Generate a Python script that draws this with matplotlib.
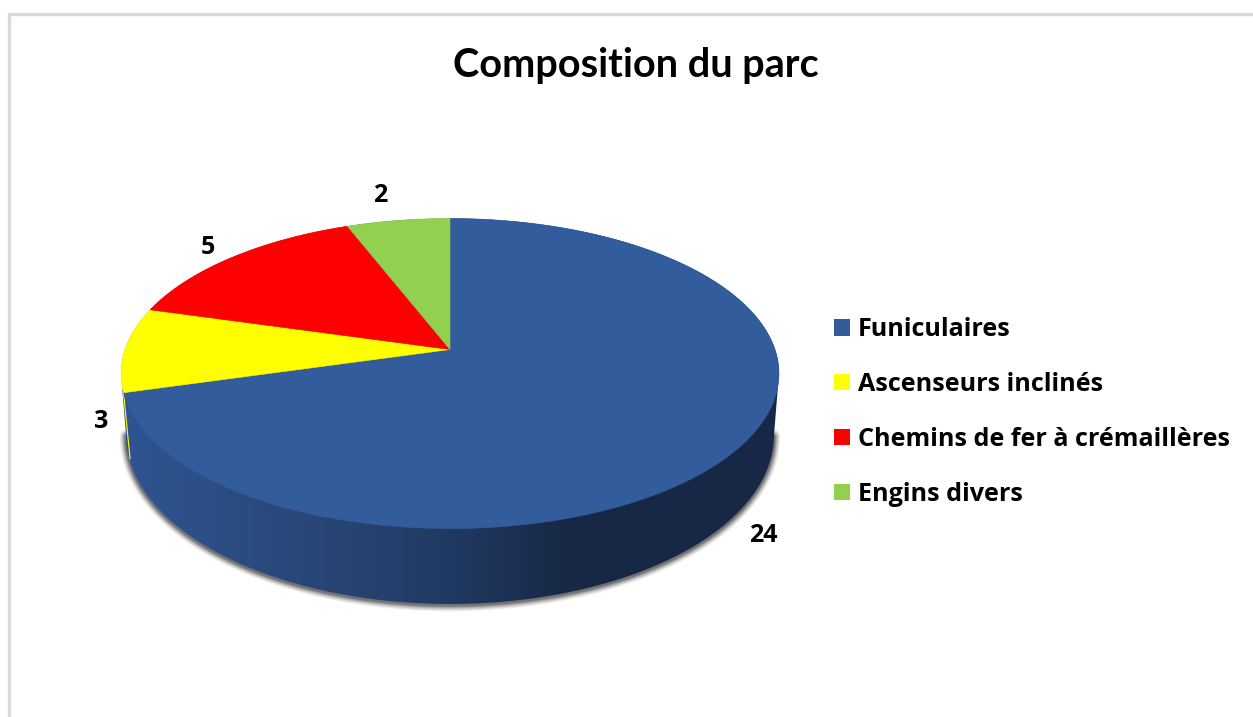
import numpy as np
import matplotlib
matplotlib.use("Agg")
import matplotlib.pyplot as plt
from matplotlib.colors import LinearSegmentedColormap
from matplotlib.patches import Patch, Polygon

plt.rcParams['font.family'] = ['Lato', 'DejaVu Sans']

# data
categories = ["Funiculaires", "Ascenseurs inclinés", "Chemins de fer à crémaillères", "Engins divers"]
values = [24, 3, 5, 2]
colors = ["#335C9C", "#FFFF00", "#FF0000", "#92D050"]
title = "Composition du parc"

# layout, in pixels of the picture
W, H = 1253, 717
label_pos = [(763, 536), (101, 421), (208, 248), (380, 196)]
apex_x, apex_y = 450, 349.5
top_a, top_b, top_c = 325, 151.3, 0.155   # perspective of the top face
wall_cx, wall_cy, wall_rx, wall_ry = 450, 435, 324, 169   # bottom edge of the wall


# point of the tilted disc, angle counted clockwise from the top
def project(angle):
    u = np.sin(angle)
    v = np.cos(angle)
    w = 1 + top_c * v
    return apex_x + top_a * u / w, apex_y - top_b * v / w


fig = plt.figure(figsize=(W / 100, H / 100), dpi=100, facecolor="white")
ax = fig.add_axes([0, 0, 1, 1])
ax.set_xlim(0, W)
ax.set_ylim(H, 0)
ax.axis("off")

# chart frame, only top and left are visible
ax.plot([W, 9, 9], [14, 14, H], color="#D9D9D9", lw=2.4, solid_joinstyle="miter", zorder=1)

# outline of the side wall
t = np.linspace(0, 2 * np.pi, 721)
top_x, top_y = project(t)
i_right = np.argmax(top_x)
i_left = np.argmin(top_x)
upper = np.r_[i_left:len(t), 0:i_right + 1]
t_low = np.linspace(0, np.pi, 361)
low_x = wall_cx + wall_rx * np.cos(t_low)
low_y = wall_cy + wall_ry * np.sin(t_low)
wall_x = np.r_[top_x[upper], low_x]
wall_y = np.r_[top_y[upper], low_y]

# soft shadow under the wall
for lw, a in zip([13, 11, 9, 7, 5, 3], [0.05, 0.07, 0.09, 0.12, 0.16, 0.22]):
    ax.plot(low_x, low_y + 1, color="black", lw=lw * 0.72, alpha=a, zorder=2, solid_capstyle="round")

# side wall with its gradient
wall_cmap = LinearSegmentedColormap.from_list("wall", [
    (0.0, "#2F5492"), (0.27, "#294879"), (0.5, "#213A63"), (0.67, "#172947"), (1.0, "#172846")])
grad = np.linspace(0, 1, 660).reshape(1, -1)
im = ax.imshow(grad, cmap=wall_cmap, extent=(120, 780, H, 0), aspect="auto", zorder=3)
ax.set_xlim(0, W)
ax.set_ylim(H, 0)
im.set_clip_path(Polygon(np.c_[wall_x, wall_y], transform=ax.transData))

# top face, one wedge per value
bounds = np.r_[0, np.cumsum(values)] / sum(values) * 2 * np.pi
for i in range(len(values)):
    a = np.linspace(bounds[i], bounds[i + 1], 300)
    px, py = project(a)
    ax.fill(np.r_[apex_x, px], np.r_[apex_y, py], color=colors[i], lw=0.4, zorder=4)

# thin strip of the yellow wall at the left
sx, sy = project(bounds[1])
ax.plot([sx, sx + 6.5], [sy, sy + 66], color=colors[1], lw=0.8, zorder=3.5)

# data labels
for v, (x, y) in zip(values, label_pos):
    ax.text(x, y, str(v), fontsize=18, family="Open Sans", fontweight="bold", ha="center", va="center",
            color="black", zorder=5)

ax.text(636, 66, title, fontsize=28.5, fontweight="bold", ha="center", va="center", color="black")

handles = [Patch(facecolor=c, edgecolor="none") for c in colors]
leg = ax.legend(handles, categories, loc="upper left", bbox_to_anchor=(825 / W, 1 - 308 / H),
                frameon=False, prop={'family': 'Open Sans', 'size': 18.1, 'weight': 'bold'},
                handlelength=0.64, handleheight=0.64, handletextpad=0.32, labelspacing=1.19,
                borderaxespad=0, borderpad=0.36)

fig.savefig("out.png", dpi=100)
